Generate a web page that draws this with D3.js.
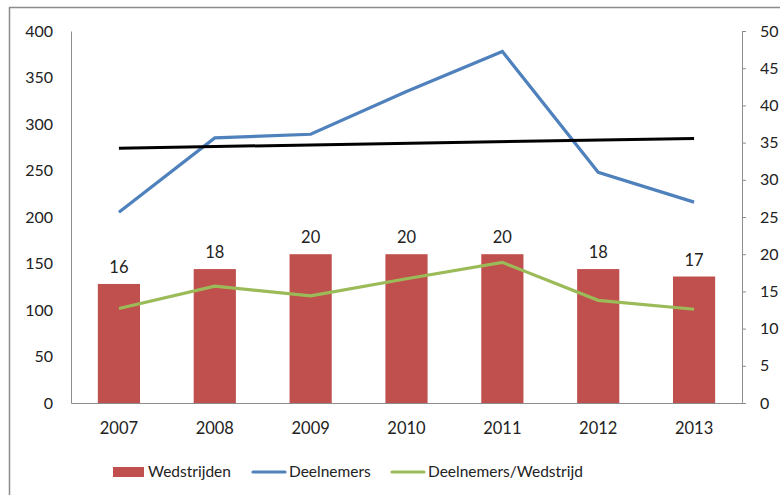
<!DOCTYPE html>
<html>
<head>
<meta charset="utf-8">
<script src="https://cdn.jsdelivr.net/npm/d3@7"></script>
<style>
  body { margin: 0; background: #fff; }
  svg text { font-family: Lato, "Open Sans", sans-serif; fill: #222; }
</style>
</head>
<body>
<div id="chart"></div>
<script>
const years = ["2007", "2008", "2009", "2010", "2011", "2012", "2013"];
const wedstrijden = [16, 18, 20, 20, 20, 18, 17];
const deelnemers = [205, 285, 289, 335, 378, 248, 216];
const perWedstrijd = [12.7, 15.7, 14.4, 16.7, 18.9, 13.8, 12.6];
const trendEnds = [274, 284.5]; // black trend line, first and last year
const leftTicks = [0, 50, 100, 150, 200, 250, 300, 350, 400];
const rightTicks = [0, 5, 10, 15, 20, 25, 30, 35, 40, 45, 50];

const width = 780, height = 495;
const plot = { left: 71, right: 742, top: 31, bottom: 403 };

const svg = d3.select("#chart").append("svg")
    .attr("width", width)
    .attr("height", height);

// outer chart border
svg.append("rect")
    .attr("x", 9.5).attr("y", 7.5)
    .attr("width", 800).attr("height", 520)
    .attr("fill", "none")
    .attr("stroke", "#8c8c8c")
    .attr("stroke-width", 1.5);

const x = d3.scaleBand().domain(years).range([plot.left, plot.right]);
const yLeft = d3.scaleLinear().domain([0, 400]).range([plot.bottom, plot.top]);
const yRight = d3.scaleLinear().domain([0, 50]).range([plot.bottom, plot.top]);

// left axis
const gl = svg.append("g")
    .attr("transform", `translate(${plot.left},0)`)
    .call(d3.axisLeft(yLeft).tickValues(leftTicks).tickSize(0).tickPadding(18));
gl.select(".domain").attr("stroke", "#8c8c8c");
gl.selectAll("text").style("font-size", "16px");

// right axis
const gr = svg.append("g")
    .attr("transform", `translate(${plot.right},0)`)
    .call(d3.axisRight(yRight).tickValues(rightTicks).tickSize(4).tickPadding(14).tickSizeOuter(4));
gr.select(".domain").attr("stroke", "#8c8c8c");
gr.selectAll("line").attr("stroke", "#8c8c8c");
gr.selectAll("text").style("font-size", "16px");

// bottom axis
const gb = svg.append("g")
    .attr("transform", `translate(0,${plot.bottom})`)
    .call(d3.axisBottom(x).tickSize(0).tickPadding(19));
gb.select(".domain").attr("stroke", "#8c8c8c");
gb.selectAll("text").style("font-size", "16.5px");

// bars
const barW = x.bandwidth() * 0.44;
svg.append("g").selectAll("rect")
    .data(years)
    .enter().append("rect")
    .attr("x", (d, i) => x(d) + x.bandwidth() / 2 - barW / 2)
    .attr("y", (d, i) => yRight(wedstrijden[i]))
    .attr("width", barW)
    .attr("height", (d, i) => plot.bottom - yRight(wedstrijden[i]))
    .attr("fill", "#c0504d");

svg.append("g").selectAll("text")
    .data(years)
    .enter().append("text")
    .attr("x", d => x(d) + x.bandwidth() / 2)
    .attr("y", (d, i) => yRight(wedstrijden[i]) - 11)
    .attr("text-anchor", "middle")
    .style("font-size", "16.5px")
    .text((d, i) => wedstrijden[i]);

const cx = d => x(d) + x.bandwidth() / 2;

// Deelnemers
svg.append("path")
    .datum(years)
    .attr("fill", "none")
    .attr("stroke", "#4f81bd")
    .attr("stroke-width", 3.2)
    .attr("d", d3.line().x(cx).y((d, i) => yLeft(deelnemers[i])));

// trend line
const trendYears = [years[0], years[years.length - 1]];
svg.append("path")
    .datum(trendYears)
    .attr("fill", "none")
    .attr("stroke", "#000")
    .attr("stroke-width", 3)
    .attr("d", d3.line().x(cx).y((d, i) => yLeft(trendEnds[i])));

// Deelnemers/Wedstrijd
svg.append("path")
    .datum(years)
    .attr("fill", "none")
    .attr("stroke", "#9bbb59")
    .attr("stroke-width", 3.2)
    .attr("d", d3.line().x(cx).y((d, i) => yRight(perWedstrijd[i])));

// legend
const legendY = 472;
const legend = [
    { name: "Wedstrijden", type: "rect", color: "#c0504d", x: 113 },
    { name: "Deelnemers", type: "line", color: "#4f81bd", x: 253 },
    { name: "Deelnemers/Wedstrijd", type: "line", color: "#9bbb59", x: 392 }
];
const lg = svg.append("g").selectAll("g")
    .data(legend)
    .enter().append("g")
    .attr("transform", d => `translate(${d.x},${legendY})`);

lg.filter(d => d.type === "rect").append("rect")
    .attr("x", 0).attr("y", -5)
    .attr("width", 31).attr("height", 10)
    .attr("fill", d => d.color);

lg.filter(d => d.type === "line").append("line")
    .attr("x1", 0).attr("x2", 32)
    .attr("y1", 0).attr("y2", 0)
    .attr("stroke", d => d.color)
    .attr("stroke-width", 3.2)
    .attr("stroke-linecap", "round");

lg.append("text")
    .attr("x", d => d.type === "rect" ? 35 : 36)
    .attr("dy", "0.35em")
    .style("font-size", "15.5px")
    .text(d => d.name);
</script>
</body>
</html>
